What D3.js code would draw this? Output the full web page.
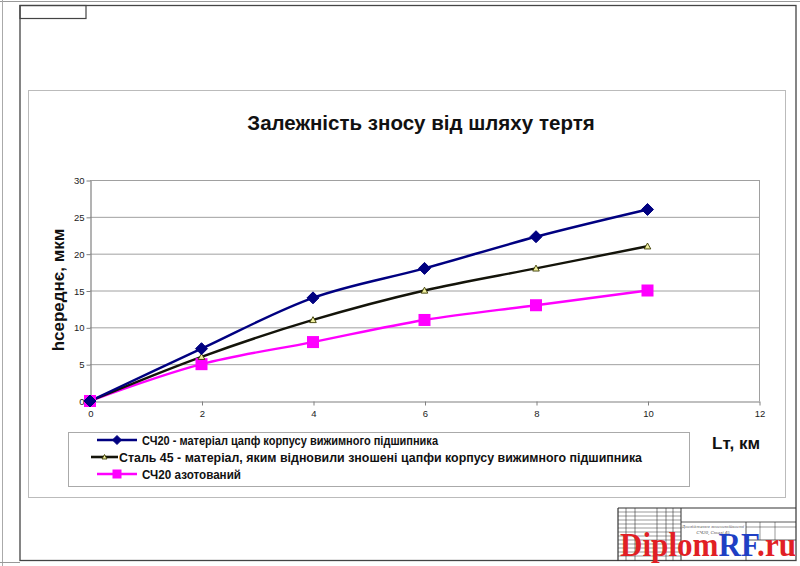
<!DOCTYPE html>
<html><head><meta charset="utf-8">
<script src="https://cdn.jsdelivr.net/npm/d3@7/dist/d3.min.js"></script>
<style>body{margin:0;background:#fff}svg{display:block}</style>
</head><body>
<svg id="c" width="800" height="566"></svg>
<script>
const xValues = [0, 2, 4, 6, 8, 10];
const seriesBlue = [0, 7.1, 14, 18, 22.3, 26];
const seriesBlack = [0, 6, 11, 15, 18, 21];
const seriesMagenta = [0, 5, 8, 11, 13, 15];
const seriesNames = [
  "СЧ20 - матеріал цапф корпусу вижимного підшипника",
  "Сталь 45 - матеріал, яким відновили зношені цапфи корпусу вижимного підшипника",
  "СЧ20 азотований"
];
const xTicks = [0, 2, 4, 6, 8, 10, 12];
const yTicks = [0, 5, 10, 15, 20, 25, 30];
const titleText = "Залежність зносу від шляху тертя";
const yLabel = "hсереднє, мкм";
const xLabel = "Lт, км";

const svg = d3.select("#c");
const F = "'Liberation Sans', Arial, sans-serif";

// sheet frames
svg.append("line").attr("x1",0).attr("x2",800).attr("y1",1.5).attr("y2",1.5).attr("stroke","#999").attr("stroke-width",1);
svg.append("line").attr("x1",2.5).attr("x2",2.5).attr("y1",0).attr("y2",566).attr("stroke","#aaa").attr("stroke-width",1);
svg.append("rect").attr("x",20).attr("y",5.5).attr("width",776).attr("height",555).attr("fill","none").attr("stroke","#444").attr("stroke-width",1.3);
svg.append("rect").attr("x",20).attr("y",5.5).attr("width",66).attr("height",13).attr("fill","none").attr("stroke","#444").attr("stroke-width",1.2);
svg.append("line").attr("x1",0).attr("x2",20).attr("y1",562.5).attr("y2",562.5).attr("stroke","#999");

// chart area
svg.append("rect").attr("x",28.5).attr("y",90.5).attr("width",757).attr("height",407).attr("fill","#fff").attr("stroke","#bbb").attr("stroke-width",1);

const m = {l: 90, r: 759, t: 180, b: 401};
const x = d3.scaleLinear().domain([0, 12]).range([m.l, m.r]);
const y = d3.scaleLinear().domain([0, 30]).range([m.b, m.t]);

// gridlines
svg.append("g").selectAll("line").data(yTicks.filter(d=>d>0)).join("line")
  .attr("x1", m.l).attr("x2", m.r).attr("y1", d=>y(d)+0.5).attr("y2", d=>y(d)+0.5)
  .attr("stroke", "#a0a0a0").attr("stroke-width", 1);
svg.append("line").attr("x1", m.r+0.5).attr("x2", m.r+0.5).attr("y1", m.t).attr("y2", m.b).attr("stroke","#a0a0a0");

// axes
const xAxis = svg.append("g").attr("transform", `translate(0.5,${m.b+0.5})`)
  .call(d3.axisBottom(x).tickValues(xTicks).tickSize(4).tickSizeOuter(0).tickFormat(d3.format("d")));
const yAxis = svg.append("g").attr("transform", `translate(${m.l+0.5},0.5)`)
  .call(d3.axisLeft(y).tickValues(yTicks).tickSize(4).tickSizeOuter(0).tickFormat(d3.format("d")));
[xAxis, yAxis].forEach(a => {
  a.select(".domain").attr("stroke", "#808080").attr("stroke-width", 1.2);
  a.selectAll(".tick line").attr("stroke", "#808080");
  a.selectAll("text").attr("font-family", F).attr("font-size", 9.5).attr("fill", "#222");
});
xAxis.selectAll("text").attr("dy", "1em").attr("y", 6);
yAxis.selectAll("text").attr("x", -6);

// lines
const line = d3.line().x(d=>x(d[0])).y(d=>y(d[1])).curve(d3.curveCatmullRom.alpha(0.5));
const series = [
  {vals: seriesBlue, color: "#000080", marker: "diamond"},
  {vals: seriesBlack, color: "#14140a", marker: "triangle"},
  {vals: seriesMagenta, color: "#ff00ff", marker: "square"}
];
function drawMarker(g, type, cx, cy, scale) {
  if (type === "diamond") {
    const s = 6 * scale;
    g.append("path").attr("d", `M${cx},${cy-s}L${cx+s},${cy}L${cx},${cy+s}L${cx-s},${cy}Z`).attr("fill","#000080").attr("stroke","#000080");
  } else if (type === "triangle") {
    const s = 3.3 * scale;
    g.append("path").attr("d", `M${cx},${cy-s}L${cx+s},${cy+s*0.8}L${cx-s},${cy+s*0.8}Z`).attr("fill","#f0f0a0").attr("stroke","#3a3a00").attr("stroke-width",0.9);
  } else {
    const s = 6 * scale;
    g.append("rect").attr("x", cx-s).attr("y", cy-s).attr("width", 2*s).attr("height", 2*s).attr("fill","#ff00ff");
  }
}
series.slice().reverse().forEach(s => {
  const pts = xValues.map((v,i)=>[v, s.vals[i]]);
  svg.append("path").datum(pts).attr("d", line).attr("fill","none").attr("stroke", s.color).attr("stroke-width", 2.4);
});
series.slice().reverse().forEach(s => {
  const g = svg.append("g");
  xValues.forEach((v,i)=> drawMarker(g, s.marker, x(v), y(s.vals[i]), 1));
});

// title
svg.append("text").attr("x", 421).attr("y", 130).attr("text-anchor","middle")
  .attr("font-family", F).attr("font-weight","bold").attr("font-size", 20.5).attr("fill","#111").text(titleText);

// y label
svg.append("text").attr("transform", "translate(64,290) rotate(-90)").attr("text-anchor","middle")
  .attr("font-family", F).attr("font-weight","bold").attr("font-size", 17).attr("fill","#111").text(yLabel);

// x label
svg.append("text").attr("x", 760).attr("y", 449).attr("text-anchor","end")
  .attr("font-family", F).attr("font-weight","bold").attr("font-size", 17).attr("fill","#111").text(xLabel);

// legend
svg.append("rect").attr("x", 68.5).attr("y", 432.5).attr("width", 621).attr("height", 54).attr("fill","#fff").attr("stroke","#aaa");
const legX = [[97,137,141],[91,118,118],[97,137,141]];
const legW = [296, 523, 99];
const legY = [440, 457, 474];
series.forEach((s, i) => {
  const g = svg.append("g");
  const [x1, x2, tx] = legX[i];
  const yy = legY[i];
  g.append("line").attr("x1", x1).attr("x2", x2).attr("y1", yy).attr("y2", yy).attr("stroke", s.color).attr("stroke-width", 2.6);
  drawMarker(g, s.marker, (x1 + x2)/2, yy, 0.75);
  g.append("text").attr("x", tx + 1).attr("y", yy + 4.5).attr("font-family", F).attr("font-weight","bold")
    .attr("font-size", 12).attr("textLength", legW[i]).attr("lengthAdjust","spacingAndGlyphs")
    .attr("fill","#111").text(seriesNames[i]);
});

// title block (drawing stamp)
const tb = svg.append("g").attr("stroke","#333").attr("stroke-width",0.8).attr("fill","none");
tb.append("line").attr("x1",618).attr("x2",796).attr("y1",508).attr("y2",508).attr("stroke-width",1.2);
tb.append("line").attr("x1",618).attr("x2",618).attr("y1",508).attr("y2",561).attr("stroke-width",1.2);
tb.append("line").attr("x1",681).attr("x2",681).attr("y1",508).attr("y2",561).attr("stroke-width",1);
[512,516,520,524,528,532,536,540,544,548,552,556].forEach(v=>{
  tb.append("line").attr("x1",618).attr("x2",681).attr("y1",v).attr("y2",v).attr("stroke-width",0.5);
});
[626,635,657,666,673].forEach(v=>{
  tb.append("line").attr("x1",v).attr("x2",v).attr("y1",508).attr("y2",561).attr("stroke-width",0.6);
});
tb.append("line").attr("x1",681).attr("x2",796).attr("y1",522).attr("y2",522).attr("stroke-width",0.8);
tb.append("line").attr("x1",746).attr("x2",746).attr("y1",522).attr("y2",561).attr("stroke-width",0.8);
tb.append("line").attr("x1",746).attr("x2",796).attr("y1",527).attr("y2",527).attr("stroke-width",0.5);
tb.append("line").attr("x1",746).attr("x2",796).attr("y1",540).attr("y2",540).attr("stroke-width",0.8);
[760,775].forEach(v=>tb.append("line").attr("x1",v).attr("x2",v).attr("y1",522).attr("y2",540).attr("stroke-width",0.5));
const tt = svg.append("g").attr("font-family","'Liberation Serif', serif").attr("font-style","italic").attr("font-size",5).attr("fill","#555");
["Дослідження зносостійкості","СЧ20, Сталі 45"].forEach((t,i)=>{
  tt.append("text").attr("x",713).attr("y",528+i*5.5).attr("text-anchor","middle").text(t);
});

// watermark
const wm = svg.append("text").attr("x", 620).attr("y", 556).attr("font-family","'Liberation Serif','Times New Roman',serif")
  .attr("font-size", 34).attr("font-weight","bold").attr("textLength", 176).attr("lengthAdjust","spacingAndGlyphs");
wm.append("tspan").attr("fill","#e11f25").text("Diplom");
wm.append("tspan").attr("fill","#1f3fc4").text("RF");
wm.append("tspan").attr("fill","#e11f25").text(".ru");
</script>
</body></html>
